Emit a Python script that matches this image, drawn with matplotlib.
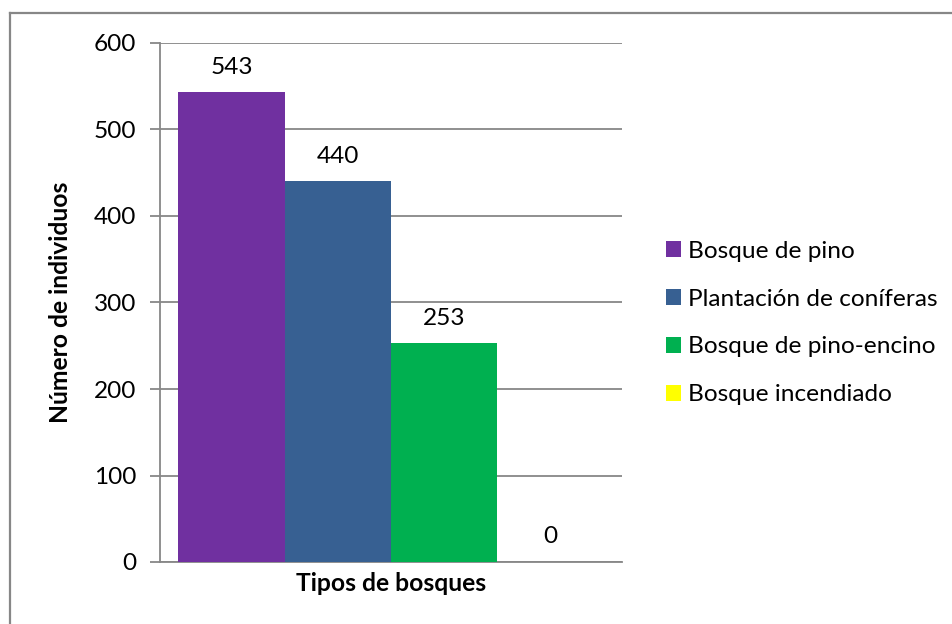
import matplotlib
matplotlib.use("Agg")
import matplotlib.pyplot as plt
from matplotlib.lines import Line2D
from matplotlib.patches import Patch

plt.rcParams['font.family'] = ['Lato', 'DejaVu Sans']

series = ["Bosque de pino", "Plantación de coníferas", "Bosque de pino-encino", "Bosque incendiado"]
values = [543, 440, 253, 0]
colors = ["#7030A0", "#376092", "#00B050", "#FFFF00"]
yticks = [0, 100, 200, 300, 400, 500, 600]
xlabel = "Tipos de bosques"
ylabel = "Número de individuos"

W, H = 953, 624
fig = plt.figure(figsize=(W / 100, H / 100), dpi=100)

# chart area frame (top and left edges)
grey = "#878787"
fig.add_artist(Line2D([10 / W, 10 / W], [0, 1 - 13 / H], transform=fig.transFigure,
                      color=grey, lw=1.6))
fig.add_artist(Line2D([10 / W, 1], [1 - 13 / H, 1 - 13 / H], transform=fig.transFigure,
                      color=grey, lw=1.6))

ax = fig.add_axes([160 / W, 1 - 562 / H, 462 / W, 519 / H])

fs = 17.6
n = len(values)
pos = [i - (n - 1) / 2 for i in range(n)]
half = 231 / 106.25
ax.bar(pos, values, width=1.0, color=colors, zorder=3)
for x, v in zip(pos, values):
    ax.text(x, v + 29, str(v), ha="center", va="center", fontsize=fs, color="black")

ax.set_xlim(-half, half)
ax.set_ylim(0, 600)
ax.set_yticks(yticks)
ax.set_yticklabels([str(t) for t in yticks], fontsize=fs)
ax.set_xticks([])
ax.yaxis.grid(True, color=grey, lw=1.3, zorder=0)
ax.tick_params(axis="y", length=7, width=1.3, color=grey, pad=10)
for s in ["top", "right"]:
    ax.spines[s].set_visible(False)
for s in ["left", "bottom"]:
    ax.spines[s].set_color(grey)
    ax.spines[s].set_linewidth(1.3)
ax.set_xlabel(xlabel, fontsize=17.7, fontweight="bold", labelpad=7)
ax.set_ylabel(ylabel, fontsize=17.7, fontweight="bold", labelpad=16)

handles = [Patch(facecolor=c, edgecolor="none") for c in colors]
fig.legend(handles, series, loc="center left", bbox_to_anchor=(644 / W, 1 - 323 / H),
           frameon=False, fontsize=fs, handlelength=0.62, handleheight=0.62,
           handletextpad=0.3, labelspacing=1.1)

fig.savefig("out.png", dpi=100)
